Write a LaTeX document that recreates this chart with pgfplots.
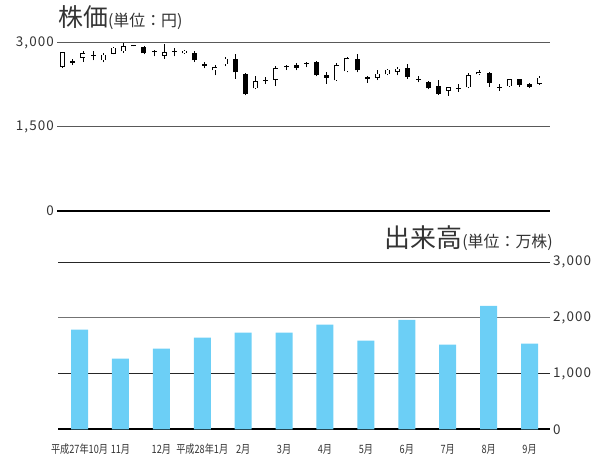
\documentclass[border=0pt]{standalone}
\usepackage{fontspec}
\setmainfont{Noto Sans CJK JP}
\newfontfamily\numfont[LetterSpace=8]{Noto Sans CJK JP}
\newfontfamily\condfont[FakeStretch=0.8]{Noto Sans CJK JP}
\usepackage{pgfplots}
\pgfplotsset{compat=1.18}
\usepackage{pgfplotstable}
\definecolor{barblue}{RGB}{108,207,246}
\definecolor{txt}{RGB}{51,51,51}

% hollow (rising) candles: x o h l c
\pgfplotstableread{
x o h l c
0 2564 2835 2555 2829
2 2734 2860 2652 2815
4 2682 2823 2647 2788
5 2806 2930 2790 2912
6 2846 2988 2820 2935
10 2770 2977 2712 2829
12 2811 2875 2800 2858
15 2505 2594 2417 2564
16 2611 2753 2576 2717
19 2183 2400 2170 2312
21 2342 2576 2223 2546
27 2329 2635 2312 2594
28 2488 2740 2470 2723
31 2370 2506 2330 2447
32 2435 2530 2420 2518
33 2476 2570 2417 2535
38 2135 2210 2052 2200
40 2200 2450 2190 2417
41 2435 2506 2425 2476
44 2223 2355 2215 2347
47 2260 2400 2250 2377
}\up

% filled (falling) candles: x o h l c
\pgfplotstableread{
x o h l c
1 2665 2710 2600 2645
3 2780 2860 2682 2760
7 2955 2965 2935 2935
8 2929 2940 2790 2811
9 2860 2870 2755 2830
11 2855 2900 2755 2835
13 2811 2858 2652 2682
14 2620 2650 2540 2590
17 2717 2806 2358 2470
18 2447 2460 2060 2077
20 2340 2380 2260 2320
22 2580 2600 2510 2560
23 2605 2630 2505 2553
24 2645 2650 2560 2625
25 2647 2665 2400 2417
26 2417 2480 2270 2377
29 2717 2800 2470 2506
30 2388 2400 2282 2345
34 2553 2623 2358 2388
35 2357 2400 2290 2337
36 2300 2310 2165 2183
37 2223 2340 2070 2082
39 2195 2260 2120 2175
42 2459 2470 2210 2282
43 2212 2270 2140 2192
45 2347 2355 2210 2253
46 2270 2280 2190 2210
}\down

\pgfplotsset{
  wick/.style={forget plot, draw=none, mark=none,
    error bars/.cd, y dir=plus, y explicit, error mark=none,
    error bar style={draw=black, solid, line width=0.8bp}},
  body/.style={forget plot, draw=none, mark=none,
    error bars/.cd, y dir=plus, y explicit, error mark=none,
    error bar style={draw=#1, solid, line width=5bp}},
  inner/.style={forget plot, draw=none, mark=none,
    error bars/.cd, y dir=plus, y explicit, error mark=none,
    error bar style={draw=white, solid, line width=3.4bp}},
}

\begin{document}
\begin{tikzpicture}[x=1bp,y=1bp]
\useasboundingbox (0,0) rectangle (598,454);

\begin{axis}[
  at={(57bp,243.3bp)}, anchor=south west, scale only axis,
  width=493bp, height=168bp,
  xmin=-0.56, xmax=48.0, ymin=0, ymax=3000, clip=false,
  axis x line*=bottom, axis y line*=left,
  x axis line style={line width=2bp, black},
  y axis line style={draw=none},
  major tick length=0, xtick=\empty,
  ytick={1500,3000}, ymajorgrids,
  grid style={black!65, line width=0.9bp},
  extra y ticks={0}, extra y tick style={grid style={black, line width=2bp}},
  scaled y ticks=false,
  /pgf/number format/.cd, 1000 sep={,}, assume math mode=true,
  /pgfplots/.cd,
  yticklabel style={font=\numfont\fontsize{13.5}{14}\selectfont, text=txt, inner sep=0pt, xshift=-3bp},
]
\addplot [wick] table [x=x, y=l, y error plus expr=\thisrow{h}-\thisrow{l}] {\up};
\addplot [wick] table [x=x, y=l, y error plus expr=\thisrow{h}-\thisrow{l}] {\down};
\addplot [body=black] table [x=x, y=o, y error plus expr=\thisrow{c}-\thisrow{o}] {\up};
\addplot [inner] table [x=x, y expr=\thisrow{o}+12, y error plus expr=\thisrow{c}-\thisrow{o}-24] {\up};
\addplot [body=black] table [x=x, y=c, y error plus expr=\thisrow{o}-\thisrow{c}] {\down};
\end{axis}

\begin{axis}[
  at={(58bp,24.7bp)}, anchor=south west, scale only axis,
  width=492bp, height=167.3bp,
  xmin=-0.526, xmax=11.5, ymin=0, ymax=3000, clip=false,
  axis x line*=bottom, axis y line*=right,
  x axis line style={line width=2bp, black},
  y axis line style={draw=none},
  major tick length=0,
  xtick={0,...,11},
  xticklabels={平成27年10月,11月,12月,平成28年1月,2月,3月,4月,5月,6月,7月,8月,9月},
  xticklabel style={font=\condfont\fontsize{11.5}{12}\selectfont, text=txt, anchor=base, inner sep=0pt, yshift=-24bp},
  ytick={0,1000,3000}, ymajorgrids,
  grid style={black!85, line width=0.9bp},
  extra y ticks={2000}, extra y tick style={grid style={black!55, line width=1.2bp}},
  scaled y ticks=false,
  /pgf/number format/.cd, 1000 sep={,}, assume math mode=true,
  /pgfplots/.cd,
  yticklabel style={font=\numfont\fontsize{13.5}{14}\selectfont, text=txt, inner sep=0pt, xshift=3bp},
]
\addplot [ybar, bar width=17bp, fill=barblue, draw=none] coordinates {
(0,1786) (1,1268) (2,1446) (3,1643) (4,1732) (5,1732)
(6,1875) (7,1589) (8,1964) (9,1518) (10,2214) (11,1536)};
\end{axis}

\node[anchor=base west, inner sep=0, text=txt] at (58,427)
  {{\fontsize{25}{25}\selectfont 株価}{\fontsize{16}{16}\selectfont (単位：円)}};
\node[anchor=base east, inner sep=0, text=txt] at (553,206)
  {{\fontsize{26}{26}\selectfont 出来高}{\fontsize{16}{16}\selectfont (単位：万株)}};
\end{tikzpicture}
\end{document}
